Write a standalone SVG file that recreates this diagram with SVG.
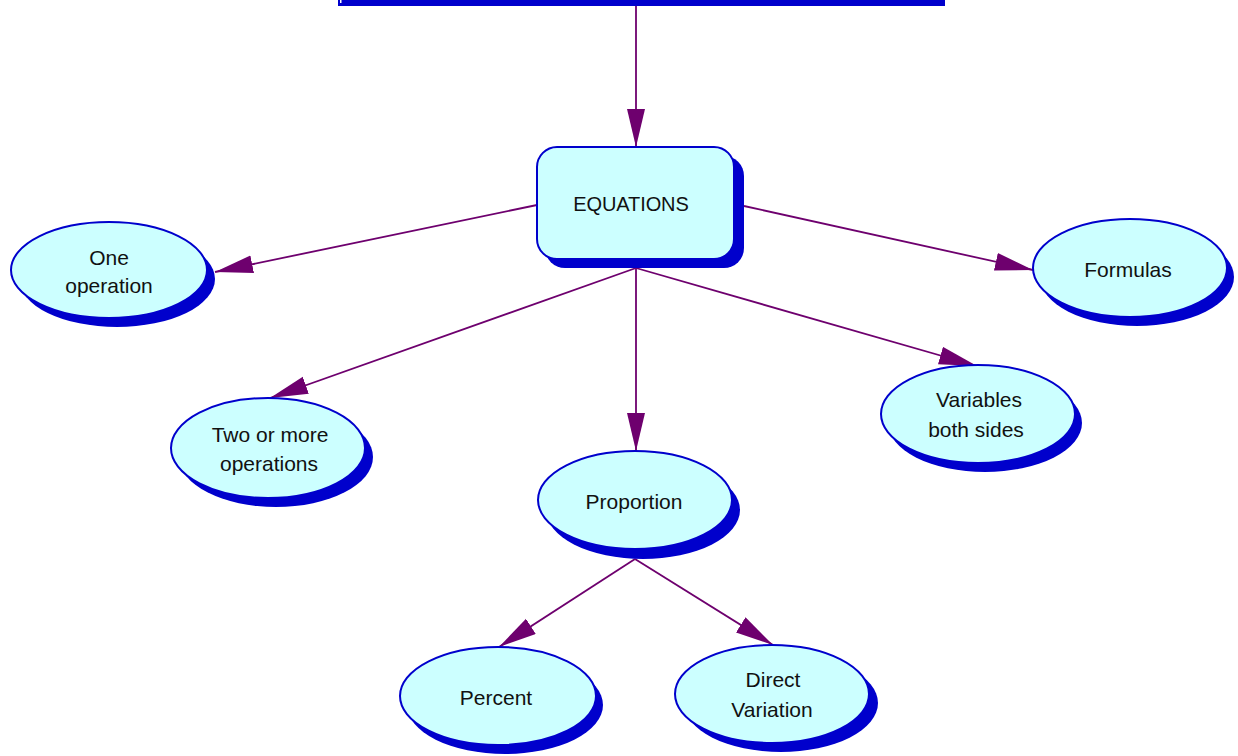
<svg xmlns="http://www.w3.org/2000/svg" width="1238" height="756" viewBox="0 0 1238 756">
<style>
.sh{fill:#0000CC}
.nd{fill:#CCFFFF;stroke:#0000CC;stroke-width:2}
.t{font-family:"Liberation Sans",Arial,sans-serif;font-size:21px;fill:#111;text-anchor:middle}
.c{stroke:#6E006E;stroke-width:1.8;fill:none}
</style>
<defs>
<marker id="ah" markerUnits="userSpaceOnUse" markerWidth="40" markerHeight="20" refX="38" refY="9" orient="auto">
<path d="M0,0 L38,9 L0,18 Z" fill="#6E006E"/>
</marker>
</defs>
<g id="connectors">
<line class="c" x1="636" y1="6" x2="636" y2="147" marker-end="url(#ah)"/>
<line class="c" x1="537" y1="205" x2="215" y2="272" marker-end="url(#ah)"/>
<line class="c" x1="744" y1="206" x2="1033" y2="270" marker-end="url(#ah)"/>
<line class="c" x1="636" y1="268" x2="270" y2="398" marker-end="url(#ah)"/>
<line class="c" x1="636" y1="268" x2="636" y2="451" marker-end="url(#ah)"/>
<line class="c" x1="636" y1="268" x2="977" y2="366" marker-end="url(#ah)"/>
<line class="c" x1="635" y1="559" x2="499" y2="647" marker-end="url(#ah)"/>
<line class="c" x1="635" y1="559" x2="773" y2="645" marker-end="url(#ah)"/>
</g>
<g id="top">
<rect class="sh" x="338" y="-20" width="607" height="26"/>
<rect x="340" y="-20" width="1.5" height="23" fill="#fff"/>
</g>
<g id="equations">
<rect class="sh" x="545" y="156" width="199" height="112" rx="20"/>
<rect class="nd" x="537" y="147" width="197" height="112" rx="20"/>
<text class="t" x="631" y="211" style="font-size:20px" letter-spacing="-0.1">EQUATIONS</text>
</g>
<g id="one-operation">
<ellipse class="sh" cx="117" cy="279" rx="98" ry="48"/>
<ellipse class="nd" cx="109" cy="270" rx="98" ry="48"/>
<text class="t" x="109" y="265">One</text>
<text class="t" x="109" y="293">operation</text>
</g>
<g id="formulas">
<ellipse class="sh" cx="1137" cy="277" rx="97" ry="49"/>
<ellipse class="nd" cx="1130" cy="268" rx="97" ry="49"/>
<text class="t" x="1128" y="277">Formulas</text>
</g>
<g id="two-or-more">
<ellipse class="sh" cx="276" cy="457" rx="97" ry="50"/>
<ellipse class="nd" cx="268" cy="448" rx="97" ry="50"/>
<text class="t" x="270" y="442">Two or more</text>
<text class="t" x="269" y="471">operations</text>
</g>
<g id="proportion">
<ellipse class="sh" cx="643" cy="510" rx="97" ry="49"/>
<ellipse class="nd" cx="635" cy="500" rx="97" ry="49"/>
<text class="t" x="634" y="509">Proportion</text>
</g>
<g id="variables">
<ellipse class="sh" cx="985" cy="423" rx="97" ry="49"/>
<ellipse class="nd" cx="978" cy="414" rx="97" ry="49"/>
<text class="t" x="979" y="407">Variables</text>
<text class="t" x="976" y="437">both sides</text>
</g>
<g id="percent">
<ellipse class="sh" cx="505" cy="705" rx="98" ry="49"/>
<ellipse class="nd" cx="498" cy="696" rx="98" ry="49"/>
<text class="t" x="496" y="705">Percent</text>
</g>
<g id="direct-variation">
<ellipse class="sh" cx="781" cy="703" rx="97" ry="49"/>
<ellipse class="nd" cx="772" cy="694" rx="97" ry="49"/>
<text class="t" x="773" y="687">Direct</text>
<text class="t" x="772" y="717">Variation</text>
</g>
</svg>
